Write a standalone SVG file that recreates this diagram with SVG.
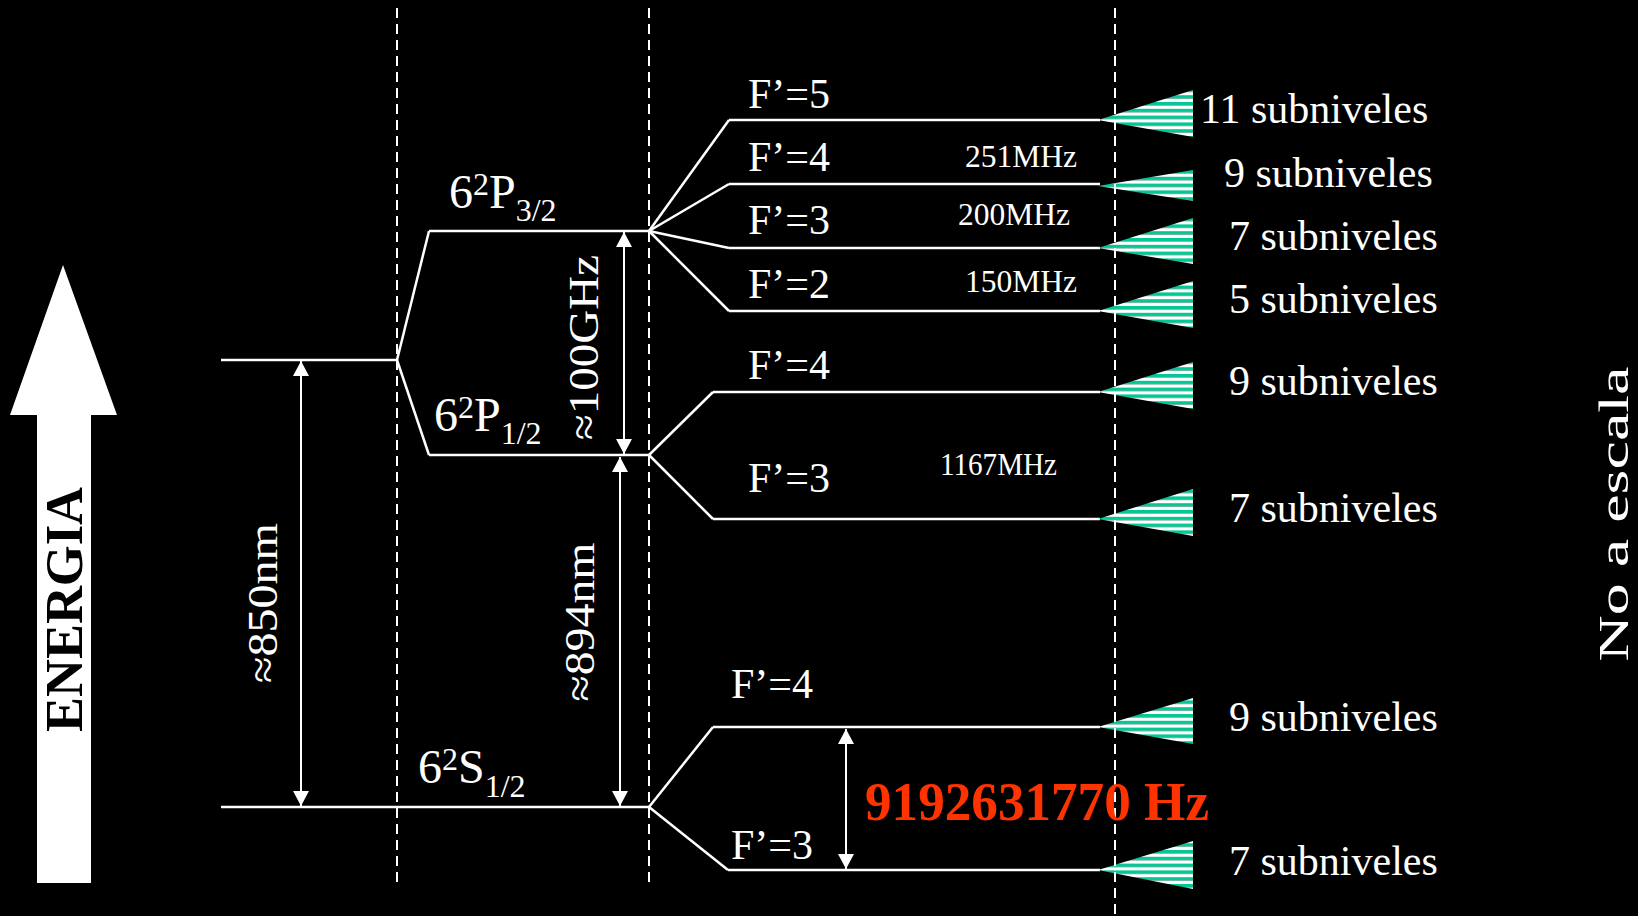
<svg xmlns="http://www.w3.org/2000/svg" width="1638" height="916" viewBox="0 0 1638 916">
<defs>
<style>
.t{font-family:"Liberation Serif","Times New Roman",serif;fill:#fff;font-size:42px}
.big{font-size:48px}
.s{font-size:32px}
.m{font-size:31px}
.lv{fill:none;stroke:#fff;stroke-width:2.5;stroke-linejoin:miter}
.ds{stroke:#fff;stroke-width:2;stroke-dasharray:10 6}
.dim{stroke:#fff;stroke-width:2;marker-start:url(#ah);marker-end:url(#ah)}
.tri{fill:url(#stripes)}
</style>
<pattern id="stripes" patternUnits="userSpaceOnUse" width="8" height="6.8">
<rect width="8" height="3.4" fill="#00c896"/>
<rect y="3.4" width="8" height="3.4" fill="#ffffff"/>
</pattern>
<marker id="ah" markerUnits="userSpaceOnUse" viewBox="0 0 15 16" refX="15" refY="8" markerWidth="15" markerHeight="16" orient="auto-start-reverse">
<path d="M0,0 L15,8 L0,16 Z" fill="#fff"/>
</marker>
</defs>
<rect width="1638" height="916" fill="#000"/>

<g id="energia">
<path d="M63,265 L117,415 L91,415 L91,883 L37,883 L37,415 L10,415 Z" fill="#fff"/>
<text transform="translate(82,609.5) rotate(-90)" text-anchor="middle" font-family="Liberation Serif, serif" font-weight="bold" font-size="52" fill="#000" textLength="245" lengthAdjust="spacingAndGlyphs">ENERGIA</text>
</g>

<g id="level-6S">
<path class="lv" d="M221,807 L649,807"/>
<text class="t big" x="418" y="783">6<tspan class="s" dy="-13">2</tspan><tspan dy="13">S</tspan><tspan class="s" dy="14">1/2</tspan></text>
</g>

<g id="level-6P">
<path class="lv" d="M221,360 L397,360"/>
</g>

<g id="level-6P32">
<path class="lv" d="M429,231 L649,231"/>
<text class="t big" x="449" y="208">6<tspan class="s" dy="-13">2</tspan><tspan dy="13">P</tspan><tspan class="s" dy="13">3/2</tspan></text>
</g>

<g id="level-6P12">
<path class="lv" d="M429,455 L649,455"/>
<text class="t big" x="434" y="431">6<tspan class="s" dy="-13">2</tspan><tspan dy="13">P</tspan><tspan class="s" dy="13">1/2</tspan></text>
</g>

<g id="P32-F5">
<path class="lv" d="M729,120 L1100,120"/>
<polygon class="tri" points="1098,120 1193,90 1193,137"/>
<text class="t" x="748" y="108">F’=5</text>
<text class="t" x="1200" y="123">11 subniveles</text>
</g>
<g id="P32-F4">
<path class="lv" d="M729,184 L1100,184"/>
<polygon class="tri" points="1098,186 1193,170 1193,201"/>
<text class="t" x="748" y="171">F’=4</text>
<text class="t m" x="965" y="167" textLength="112" lengthAdjust="spacingAndGlyphs">251MHz</text>
<text class="t" x="1224" y="187">9 subniveles</text>
</g>
<g id="P32-F3">
<path class="lv" d="M729,248 L1100,248"/>
<polygon class="tri" points="1098,248 1193,218 1193,264"/>
<text class="t" x="748" y="234">F’=3</text>
<text class="t m" x="958" y="225" textLength="112" lengthAdjust="spacingAndGlyphs">200MHz</text>
<text class="t" x="1229" y="250">7 subniveles</text>
</g>
<g id="P32-F2">
<path class="lv" d="M729,311 L1100,311"/>
<polygon class="tri" points="1098,311 1193,281 1193,328"/>
<text class="t" x="748" y="298">F’=2</text>
<text class="t m" x="965" y="292" textLength="112" lengthAdjust="spacingAndGlyphs">150MHz</text>
<text class="t" x="1229" y="313">5 subniveles</text>
</g>

<g id="P12-F4">
<path class="lv" d="M713,392 L1100,392"/>
<polygon class="tri" points="1098,392 1193,362 1193,409"/>
<text class="t" x="748" y="379">F’=4</text>
<text class="t" x="1229" y="395">9 subniveles</text>
</g>
<g id="P12-F3">
<path class="lv" d="M713,519 L1100,519"/>
<polygon class="tri" points="1098,519 1193,489 1193,536"/>
<text class="t" x="748" y="492">F’=3</text>
<text class="t m" x="940" y="475" textLength="117" lengthAdjust="spacingAndGlyphs">1167MHz</text>
<text class="t" x="1229" y="522">7 subniveles</text>
</g>

<g id="S-F4">
<path class="lv" d="M713,727 L1100,727"/>
<polygon class="tri" points="1098,727 1193,698 1193,744"/>
<text class="t" x="731" y="698">F’=4</text>
<text class="t" x="1229" y="731">9 subniveles</text>
</g>
<g id="S-F3">
<path class="lv" d="M728,870 L1100,870"/>
<polygon class="tri" points="1098,870 1193,841 1193,889"/>
<text class="t" x="731" y="859">F’=3</text>
<text class="t" x="1229" y="875">7 subniveles</text>
</g>

<g id="connectors">
<path class="lv" d="M397,360 L429,231"/>
<path class="lv" d="M397,360 L429,455"/>
<path class="lv" d="M649,231 L729,120"/>
<path class="lv" d="M649,231 L729,184"/>
<path class="lv" d="M649,231 L729,248"/>
<path class="lv" d="M649,231 L729,311"/>
<path class="lv" d="M649,455 L713,392"/>
<path class="lv" d="M649,455 L713,519"/>
<path class="lv" d="M649,807 L713,727"/>
<path class="lv" d="M649,807 L728,870"/>
<line class="dim" x1="301" y1="361" x2="301" y2="806"/>
<line class="dim" x1="624" y1="232" x2="624" y2="454"/>
<line class="dim" x1="620" y1="457" x2="620" y2="806"/>
<line class="dim" x1="846" y1="729" x2="846" y2="869"/>
</g>

<g id="dashed">
<line class="ds" x1="397" y1="8" x2="397" y2="888"/>
<line class="ds" x1="649" y1="8" x2="649" y2="886"/>
<line class="ds" x1="1115" y1="8" x2="1115" y2="916"/>
</g>

<g id="labels">
<text class="t" transform="translate(277,603) rotate(-90)" text-anchor="middle" font-size="46" textLength="160" lengthAdjust="spacingAndGlyphs">≈850nm</text>
<text class="t" transform="translate(598,347.5) rotate(-90)" text-anchor="middle" font-size="46" textLength="185" lengthAdjust="spacingAndGlyphs">≈100GHz</text>
<text class="t" transform="translate(594,622) rotate(-90)" text-anchor="middle" font-size="46" textLength="159" lengthAdjust="spacingAndGlyphs">≈894nm</text>
<text x="865" y="820" font-family="Liberation Serif, serif" font-weight="bold" font-size="54" fill="#ff3300" textLength="344" lengthAdjust="spacingAndGlyphs">9192631770 Hz</text>
<text class="t" transform="translate(1628,514) rotate(-90)" text-anchor="middle" font-size="64" textLength="295" lengthAdjust="spacingAndGlyphs">No a escala</text>
</g>
</svg>
